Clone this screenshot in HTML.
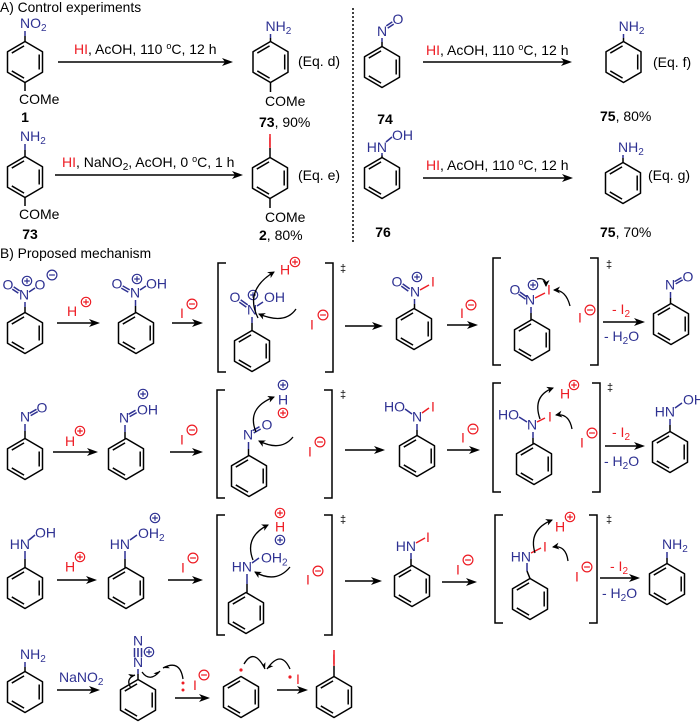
<!DOCTYPE html>
<html><head><meta charset="utf-8"><style>
html,body{margin:0;padding:0;background:#fff}
svg{display:block}
text{font-family:"Liberation Sans",Arial,sans-serif;font-size:14px;fill:#000}
.b{fill:#2e3192}.r{fill:#ed1c24}.bd{font-weight:bold}
.m{text-anchor:middle}.e{text-anchor:end}
.bl{stroke:#000;stroke-width:1.5;fill:none}
.bb{stroke:#2e3192;stroke-width:1.5;fill:none}
.br{stroke:#ed1c24;stroke-width:1.5;fill:none}
.cv{stroke:#000;stroke-width:1.3;fill:none}
.dg{font-size:11px}
.hd{font-size:13.8px}
</style></head><body>
<svg width="700" height="724" viewBox="0 0 700 724" xmlns="http://www.w3.org/2000/svg">
<defs>
<g id="bz" fill="none" stroke="#000" stroke-width="1.5" stroke-linejoin="round">
<polygon points="0,-20.5 17.5,-10.25 17.5,10.25 0,20.5 -17.5,10.25 -17.5,-10.25"/>
<path d="M14.2,-7.5V7.5M-13.2,-8.95L-0.93,-16.15M-13.2,8.95L-0.93,16.15"/>
</g>
<g id="pl" fill="none" stroke="currentColor" stroke-width="1.2"><circle r="4.7"/><path d="M-2.8,0H2.8M0,-2.8V2.8"/></g>
<g id="mi" fill="none" stroke="currentColor" stroke-width="1.2"><circle r="4.9"/><path d="M-2.9,0H2.9"/></g>
<path id="ah" d="M0,0L-11,-4L-8,0L-11,4Z" fill="#000"/>
<marker id="cm" markerWidth="10" markerHeight="10" refX="6" refY="3.5" orient="auto" markerUnits="userSpaceOnUse"><path d="M0,0L7,3.5L0,7L2,3.5Z" fill="#000"/></marker>
<marker id="hb" markerWidth="10" markerHeight="10" refX="6" refY="4" orient="auto" markerUnits="userSpaceOnUse"><path d="M0,0.5L6,4L1.5,4Z" fill="#000"/></marker>
</defs>

<!-- ===== A) Control experiments ===== -->
<text x="0" y="12" class="hd">A) Control experiments</text>

<!-- compound 1 -->
<text x="20" y="28" class="b">NO<tspan font-size="10" dy="3">2</tspan></text>
<path class="bb" d="M25,31V36"/><path class="bl" d="M25,36V41.5"/>
<use href="#bz" x="25" y="62"/>
<path class="bl" d="M25,82.5V91"/>
<text x="19" y="104">COMe</text>
<text x="25" y="122" class="m bd">1</text>

<path class="bl" d="M58,62H230"/><use href="#ah" x="233" y="62"/>
<text x="74" y="54"><tspan class="r">HI</tspan>, AcOH, 110 <tspan font-size="9" dy="-5">o</tspan><tspan dy="5">C, 12 h</tspan></text>

<text x="265.5" y="31" class="b">NH<tspan font-size="10" dy="3">2</tspan></text>
<path class="bb" d="M270.5,34V38"/><path class="bl" d="M270.5,38V41.5"/>
<use href="#bz" x="270.5" y="62"/>
<path class="bl" d="M270.5,82.5V92"/>
<text x="265" y="106">COMe</text>
<text x="259" y="127"><tspan class="bd">73</tspan>, 90%</text>
<text x="298" y="66">(Eq. d)</text>

<!-- Eq e -->
<text x="20" y="141" class="b">NH<tspan font-size="10" dy="3">2</tspan></text>
<path class="bb" d="M25,144V150"/><path class="bl" d="M25,150V156.5"/>
<use href="#bz" x="25" y="177"/>
<path class="bl" d="M25,197.5V206"/>
<text x="19" y="219">COMe</text>
<text x="30" y="239" class="m bd">73</text>

<path class="bl" d="M55,175H240"/><use href="#ah" x="243" y="175"/>
<text x="62" y="167"><tspan class="r">HI</tspan>, NaNO<tspan font-size="10" dy="3">2</tspan><tspan dy="-3">, AcOH, 0 </tspan><tspan font-size="9" dy="-5">o</tspan><tspan dy="5">C, 1 h</tspan></text>

<text x="270" y="147" class="m r">I</text>
<path class="br" d="M270,134V148"/><path class="bl" d="M270,148V157.5"/>
<use href="#bz" x="270" y="178"/>
<path class="bl" d="M270,198.5V208"/>
<text x="265" y="222">COMe</text>
<text x="259" y="240"><tspan class="bd">2</tspan>, 80%</text>
<text x="298" y="180">(Eq. e)</text>

<!-- divider -->
<path d="M353,8V243" stroke="#000" stroke-width="1.5" stroke-dasharray="2,2"/>

<!-- Eq f -->
<text x="382" y="36" class="m b">N</text>
<text x="398" y="24" class="m b">O</text>
<path class="bb" d="M386.3,25.9L392.3,21.9M387.7,28.1L393.7,24.1"/>
<path class="bb" d="M382,38V42"/><path class="bl" d="M382,42V46.5"/>
<use href="#bz" x="382" y="67"/>
<text x="385" y="124" class="m bd">74</text>

<path class="bl" d="M423,62H569"/><use href="#ah" x="572" y="62"/>
<text x="426" y="55"><tspan class="r">HI</tspan>, AcOH, 110 <tspan font-size="9" dy="-5">o</tspan><tspan dy="5">C, 12 h</tspan></text>

<text x="618.6" y="31" class="b">NH<tspan font-size="10" dy="3">2</tspan></text>
<path class="bb" d="M623.5,34V38"/><path class="bl" d="M623.5,38V41.5"/>
<use href="#bz" x="623.5" y="62"/>
<text x="653" y="67">(Eq. f)</text>
<text x="600" y="121"><tspan class="bd">75</tspan>, 80%</text>

<!-- Eq g -->
<text x="387" y="152" class="e b">HN</text>
<text x="392" y="140" class="b">OH</text>
<path class="bb" d="M386,142L392,137"/>
<path class="bb" d="M382,153V155.5"/><path class="bl" d="M382,155.5V157.5"/>
<use href="#bz" x="382" y="178"/>
<text x="383" y="237" class="m bd">76</text>

<path class="bl" d="M423,178H570"/><use href="#ah" x="573" y="178"/>
<text x="426" y="170"><tspan class="r">HI</tspan>, AcOH, 110 <tspan font-size="9" dy="-5">o</tspan><tspan dy="5">C, 12 h</tspan></text>

<text x="618" y="152" class="b">NH<tspan font-size="10" dy="3">2</tspan></text>
<path class="bb" d="M623,155V158"/><path class="bl" d="M623,158V162.5"/>
<use href="#bz" x="623" y="183"/>
<text x="648" y="180">(Eq. g)</text>
<text x="600" y="237"><tspan class="bd">75</tspan>, 70%</text>

<!-- ===== B) Proposed mechanism ===== -->
<text x="0" y="258" class="hd">B) Proposed mechanism</text>

<!-- Row 1 -->
<text x="8" y="289.5" class="m b">O</text>
<text x="24" y="299.5" class="m b">N</text>
<use href="#pl" x="27" y="281" style="color:#2e3192"/>
<text x="40" y="289.5" class="m b">O</text>
<use href="#mi" x="52" y="275" style="color:#2e3192"/>
<path class="bb" d="M12.3,289.1L18.3,293.1M13.7,286.9L19.7,290.9M29,292L35,288"/>
<path class="bb" d="M25,302V307"/><path class="bl" d="M25,307V312.5"/>
<use href="#bz" x="25" y="333"/>

<path class="bl" d="M57,323H97"/><use href="#ah" x="100" y="323"/>
<text x="72" y="316" class="m r">H</text>
<use href="#pl" x="86" y="302" style="color:#ed1c24"/>

<text x="117" y="288.5" class="m b">O</text>
<text x="135" y="297.5" class="m b">N</text>
<use href="#pl" x="137" y="279" style="color:#2e3192"/>
<text x="146" y="288.5" class="b">OH</text>
<path class="bb" d="M121.3,288.1L128.3,292.1M122.7,285.9L129.7,289.9M140,290L146,286"/>
<path class="bb" d="M135.5,300V306"/><path class="bl" d="M135.5,306V312.5"/>
<use href="#bz" x="136" y="333"/>

<path class="bl" d="M172,323H200"/><use href="#ah" x="203" y="323"/>
<text x="182" y="318" class="m r">I</text>
<use href="#mi" x="192" y="304" style="color:#ed1c24"/>

<path class="bl" d="M226,263H218V372H226M325,263H333V372H325"/>
<text x="340" y="272" class="dg">‡</text>
<text x="235" y="302" class="m b">O</text>
<text x="252" y="314.5" class="m b">N</text>
<use href="#pl" x="253" y="295" style="color:#2e3192"/>
<text x="264" y="302" class="b">OH</text>
<path class="bb" d="M239.3,302.1L246.3,307.1M240.7,299.9L247.7,304.9M257,306L263,302"/>
<path class="bb" d="M252,317V323"/><path class="bl" d="M252,323V330.5"/>
<use href="#bz" x="252" y="351"/>
<text x="285" y="274.5" class="m r">H</text>
<use href="#pl" x="295" y="262" style="color:#ed1c24"/>
<text x="312" y="329.5" class="m r">I</text>
<use href="#mi" x="323" y="315" style="color:#ed1c24"/>
<path class="cv" d="M258,318Q244,290 274,272" marker-end="url(#cm)"/>
<path class="cv" d="M296,309Q285,325 259,314" marker-end="url(#cm)"/>

<path class="bl" d="M345,326H380"/><use href="#ah" x="383" y="326"/>

<text x="397" y="286.5" class="m b">O</text>
<text x="415" y="296.5" class="m b">N</text>
<use href="#pl" x="417" y="277" style="color:#2e3192"/>
<text x="433" y="286.5" class="m r">I</text>
<path class="bb" d="M401.3,286.1L408.3,291.1M402.7,283.9L409.7,288.9"/>
<path class="br" d="M420,290L429,285"/>
<path class="bb" d="M414.5,299V304"/><path class="bl" d="M414.5,304V308.5"/>
<use href="#bz" x="414" y="329"/>

<path class="bl" d="M447,325H475"/><use href="#ah" x="478" y="325"/>
<text x="462" y="318" class="m r">I</text>
<use href="#mi" x="471" y="305" style="color:#ed1c24"/>

<path class="bl" d="M501,258H493V365H501M590,258H598V365H590"/>
<text x="606" y="268" class="dg">‡</text>
<text x="515" y="294.5" class="m b">O</text>
<text x="530" y="304.5" class="m b">N</text>
<use href="#pl" x="533" y="285" style="color:#2e3192"/>
<text x="549" y="294.5" class="m r">I</text>
<path class="bb" d="M518.5,294.2L525.5,299.2M519.9,292L526.9,297"/>
<path class="br" d="M535,298L545,293"/>
<path class="bb" d="M531,307V313"/><path class="bl" d="M531,313V319.5"/>
<use href="#bz" x="532" y="340"/>
<path class="cv" d="M537,279Q546,277 546,286" marker-end="url(#cm)"/>
<path class="cv" d="M570,306Q566,290 554,290" marker-end="url(#cm)"/>
<text x="580" y="322.5" class="m r">I</text>
<use href="#mi" x="590" y="310" style="color:#ed1c24"/>

<path class="bl" d="M603,322H642"/><use href="#ah" x="645" y="322"/>
<text x="612" y="314" class="r">- I<tspan font-size="10" dy="3">2</tspan></text>
<text x="604" y="341" class="b">- H<tspan font-size="10" dy="3">2</tspan><tspan dy="-3">O</tspan></text>

<text x="670" y="289.5" class="m b">N</text>
<text x="688" y="281.5" class="m b">O</text>
<path class="bb" d="M674.5,281.6L681.5,277.6M675.7,283.9L682.7,279.9"/>
<path class="bb" d="M670.5,292V298"/><path class="bl" d="M670.5,298V303.5"/>
<use href="#bz" x="671" y="324"/>

<!-- Row 2 -->
<text x="25" y="421.5" class="m b">N</text>
<text x="42" y="412.5" class="m b">O</text>
<path class="bb" d="M29.5,413.3L36.5,409.3M30.7,415.6L37.7,411.6"/>
<path class="bb" d="M25,424V431"/><path class="bl" d="M25,431V438.5"/>
<use href="#bz" x="25" y="459"/>

<path class="bl" d="M53,452H95"/><use href="#ah" x="98" y="452"/>
<text x="70" y="446" class="m r">H</text>
<use href="#pl" x="80" y="431" style="color:#ed1c24"/>

<text x="124" y="422.5" class="m b">N</text>
<text x="137" y="414.5" class="b">OH</text>
<use href="#pl" x="143" y="394" style="color:#2e3192"/>
<path class="bb" d="M128.5,414.3L135.5,410.3M129.7,416.6L136.7,412.6"/>
<path class="bb" d="M125,425V432"/><path class="bl" d="M125,432V438.5"/>
<use href="#bz" x="126" y="459"/>

<path class="bl" d="M170,452H200"/><use href="#ah" x="203" y="452"/>
<text x="182" y="444.5" class="m r">I</text>
<use href="#mi" x="192" y="430" style="color:#ed1c24"/>

<path class="bl" d="M225,390H217V498H225M324,390H332V498H324"/>
<text x="340" y="398" class="dg">‡</text>
<use href="#pl" x="283" y="385" style="color:#2e3192"/>
<text x="283" y="404.5" class="m b">H</text>
<use href="#pl" x="283" y="413" style="color:#ed1c24"/>
<text x="248" y="439.5" class="m b">N</text>
<text x="267" y="429.5" class="m b">O</text>
<path class="bb" d="M252.5,430.7L259.5,426.7M253.7,433L260.7,429"/>
<path class="bb" d="M248.5,442V449"/><path class="bl" d="M248.5,449V455.5"/>
<use href="#bz" x="249" y="476"/>
<path class="cv" d="M256,432Q246,408 274,397" marker-end="url(#cm)"/>
<path class="cv" d="M293,437Q281,452 259,441" marker-end="url(#cm)"/>
<text x="310" y="456.5" class="m r">I</text>
<use href="#mi" x="320" y="442" style="color:#ed1c24"/>

<path class="bl" d="M345,450H382"/><use href="#ah" x="385" y="450"/>

<text x="405" y="411.5" class="e b">HO</text>
<text x="417" y="421.5" class="m b">N</text>
<text x="433" y="411.5" class="m r">I</text>
<path class="bb" d="M405,409L412,414"/>
<path class="br" d="M422,413L429,408"/>
<path class="bb" d="M417,424V430"/><path class="bl" d="M417,430V435.5"/>
<use href="#bz" x="417" y="456"/>

<path class="bl" d="M447,450H477"/><use href="#ah" x="480" y="450"/>
<text x="463" y="442.5" class="m r">I</text>
<use href="#mi" x="473" y="429" style="color:#ed1c24"/>

<path class="bl" d="M501,383H493V492H501M592,383H600V492H592"/>
<text x="607" y="391" class="dg">‡</text>
<text x="565" y="398.5" class="m r">H</text>
<use href="#pl" x="574" y="385" style="color:#ed1c24"/>
<text x="519" y="419.5" class="e b">HO</text>
<text x="532" y="429.5" class="m b">N</text>
<text x="550" y="421.5" class="m r">I</text>
<path class="bb" d="M519,417L527,422"/>
<path class="br" d="M537,422L545,418"/>
<path class="bb" d="M533,432V438"/><path class="bl" d="M533,438V443.5"/>
<use href="#bz" x="534" y="464"/>
<path class="cv" d="M540,419Q532,396 553,388" marker-end="url(#cm)"/>
<path class="cv" d="M572,429Q569,413 556,415" marker-end="url(#cm)"/>
<text x="582" y="447.5" class="m r">I</text>
<use href="#mi" x="592" y="433" style="color:#ed1c24"/>

<path class="bl" d="M605,446H642"/><use href="#ah" x="645" y="446"/>
<text x="612" y="437" class="r">- I<tspan font-size="10" dy="3">2</tspan></text>
<text x="604" y="466" class="b">- H<tspan font-size="10" dy="3">2</tspan><tspan dy="-3">O</tspan></text>

<text x="675" y="416.5" class="e b">HN</text>
<text x="683" y="404.5" class="b">OH</text>
<path class="bb" d="M675,408L682,403"/>
<path class="bb" d="M670,419V425"/><path class="bl" d="M670,425V431.5"/>
<use href="#bz" x="670" y="452"/>

<!-- Row 3 -->
<text x="30" y="549" class="e b">HN</text>
<text x="35" y="537.5" class="b">OH</text>
<path class="bb" d="M29,540L35,535"/>
<path class="bb" d="M25,551V559"/><path class="bl" d="M25,559V567.5"/>
<use href="#bz" x="25" y="588"/>

<path class="bl" d="M57,580H94"/><use href="#ah" x="97" y="580"/>
<text x="70" y="571.5" class="m r">H</text>
<use href="#pl" x="80" y="557" style="color:#ed1c24"/>

<text x="130" y="549" class="e b">HN</text>
<text x="138" y="538" class="b">OH<tspan font-size="10" dy="3">2</tspan></text>
<use href="#pl" x="155" y="518" style="color:#2e3192"/>
<path class="bb" d="M130,540L137,535"/>
<path class="bb" d="M125,551V559"/><path class="bl" d="M125,559V567.5"/>
<use href="#bz" x="126" y="588"/>

<path class="bl" d="M168,580H200"/><use href="#ah" x="203" y="580"/>
<text x="183" y="572.5" class="m r">I</text>
<use href="#mi" x="193" y="558" style="color:#ed1c24"/>

<path class="bl" d="M225,515H217V635H225M324,515H332V635H324"/>
<text x="340" y="523" class="dg">‡</text>
<use href="#pl" x="280" y="513" style="color:#ed1c24"/>
<text x="280" y="531.5" class="m r">H</text>
<use href="#pl" x="280" y="540" style="color:#2e3192"/>
<text x="252" y="571.5" class="e b">HN</text>
<text x="261" y="562.5" class="b">OH<tspan font-size="10" dy="3">2</tspan></text>
<path class="bb" d="M252,563L259,558"/>
<path class="bb" d="M247,574V584"/><path class="bl" d="M247,584V592.5"/>
<use href="#bz" x="246" y="613"/>
<path class="cv" d="M253,560Q244,537 268,525" marker-end="url(#cm)"/>
<path class="cv" d="M290,567Q276,584 255,572" marker-end="url(#cm)"/>
<text x="308" y="584.5" class="m r">I</text>
<use href="#mi" x="318" y="571" style="color:#ed1c24"/>

<path class="bl" d="M345,581H379"/><use href="#ah" x="382" y="581"/>

<text x="416" y="551" class="e b">HN</text>
<text x="428" y="542" class="m r">I</text>
<path class="br" d="M416,543L425,538"/>
<path class="bb" d="M411,553V559"/><path class="bl" d="M411,559V565.5"/>
<use href="#bz" x="412" y="586"/>

<path class="bl" d="M442,582H474"/><use href="#ah" x="477" y="582"/>
<text x="458" y="574.5" class="m r">I</text>
<use href="#mi" x="468" y="560" style="color:#ed1c24"/>

<path class="bl" d="M503,515H495V623H503M589,515H597V623H589"/>
<text x="606" y="523" class="dg">‡</text>
<text x="560" y="531.5" class="m r">H</text>
<use href="#pl" x="570" y="517" style="color:#ed1c24"/>
<text x="531" y="561.5" class="e b">HN</text>
<text x="545" y="551.5" class="m r">I</text>
<path class="br" d="M531,553L541,548"/>
<path class="bb" d="M527,563V571"/><path class="bl" d="M527,571L530,578.5"/>
<use href="#bz" x="530" y="599"/>
<path class="cv" d="M535,553Q528,530 552,520" marker-end="url(#cm)"/>
<path class="cv" d="M568,561Q566,545 553,547" marker-end="url(#cm)"/>
<text x="577" y="581.5" class="m r">I</text>
<use href="#mi" x="587" y="567" style="color:#ed1c24"/>

<path class="bl" d="M600,578H637"/><use href="#ah" x="640" y="578"/>
<text x="610" y="571" class="r">- I<tspan font-size="10" dy="3">2</tspan></text>
<text x="602" y="598" class="b">- H<tspan font-size="10" dy="3">2</tspan><tspan dy="-3">O</tspan></text>

<text x="662" y="549" class="b">NH<tspan font-size="10" dy="3">2</tspan></text>
<path class="bb" d="M667,552V558"/><path class="bl" d="M667,558V563.5"/>
<use href="#bz" x="667" y="584"/>

<!-- Row 4 -->
<text x="20" y="659" class="b">NH<tspan font-size="10" dy="3">2</tspan></text>
<path class="bb" d="M25,662V667"/><path class="bl" d="M25,667V671.5"/>
<use href="#bz" x="25" y="692"/>

<path class="bl" d="M57,690H97"/><use href="#ah" x="100" y="690"/>
<text x="59" y="682" class="b">NaNO<tspan font-size="10" dy="3">2</tspan></text>

<text x="138" y="645.5" class="m b">N</text>
<path class="bb" d="M134.5,648V657M138,648V657M141.5,648V657"/>
<text x="138" y="667" class="m b">N</text>
<use href="#pl" x="149" y="652" style="color:#2e3192"/>
<path class="bb" d="M138,669V674"/><path class="bl" d="M138,674V679.5"/>
<use href="#bz" x="138" y="700"/>
<path class="cv" d="M131,688Q125,679 135,675" marker-end="url(#hb)"/>
<path class="cv" d="M142,672Q150,683 160,671" marker-end="url(#hb)"/>
<path class="cv" d="M183,679Q180,659 163,668" marker-end="url(#hb)"/>
<circle cx="183" cy="683" r="1.5" fill="#ed1c24"/>
<circle cx="183" cy="690" r="1.5" fill="#ed1c24"/>
<text x="195" y="690" class="m r">I</text>
<use href="#mi" x="204" y="675" style="color:#ed1c24"/>

<path class="bl" d="M175,698H207"/><use href="#ah" x="210" y="698"/>

<circle cx="241" cy="670" r="1.6" fill="#ed1c24"/>
<use href="#bz" x="241" y="697"/>
<path class="cv" d="M244,664Q254,647 265,669" marker-end="url(#hb)"/>
<path class="cv" d="M290,669Q281,649 267,669" marker-end="url(#hb)"/>
<circle cx="290" cy="677" r="1.6" fill="#ed1c24"/>
<text x="298" y="684" class="m r">I</text>

<path class="bl" d="M277,690H305"/><use href="#ah" x="308" y="690"/>

<text x="334" y="664" class="m r">I</text>
<path class="br" d="M334,650V666"/><path class="bl" d="M334,666V676.5"/>
<use href="#bz" x="334" y="697"/>
</svg>
</body></html>
